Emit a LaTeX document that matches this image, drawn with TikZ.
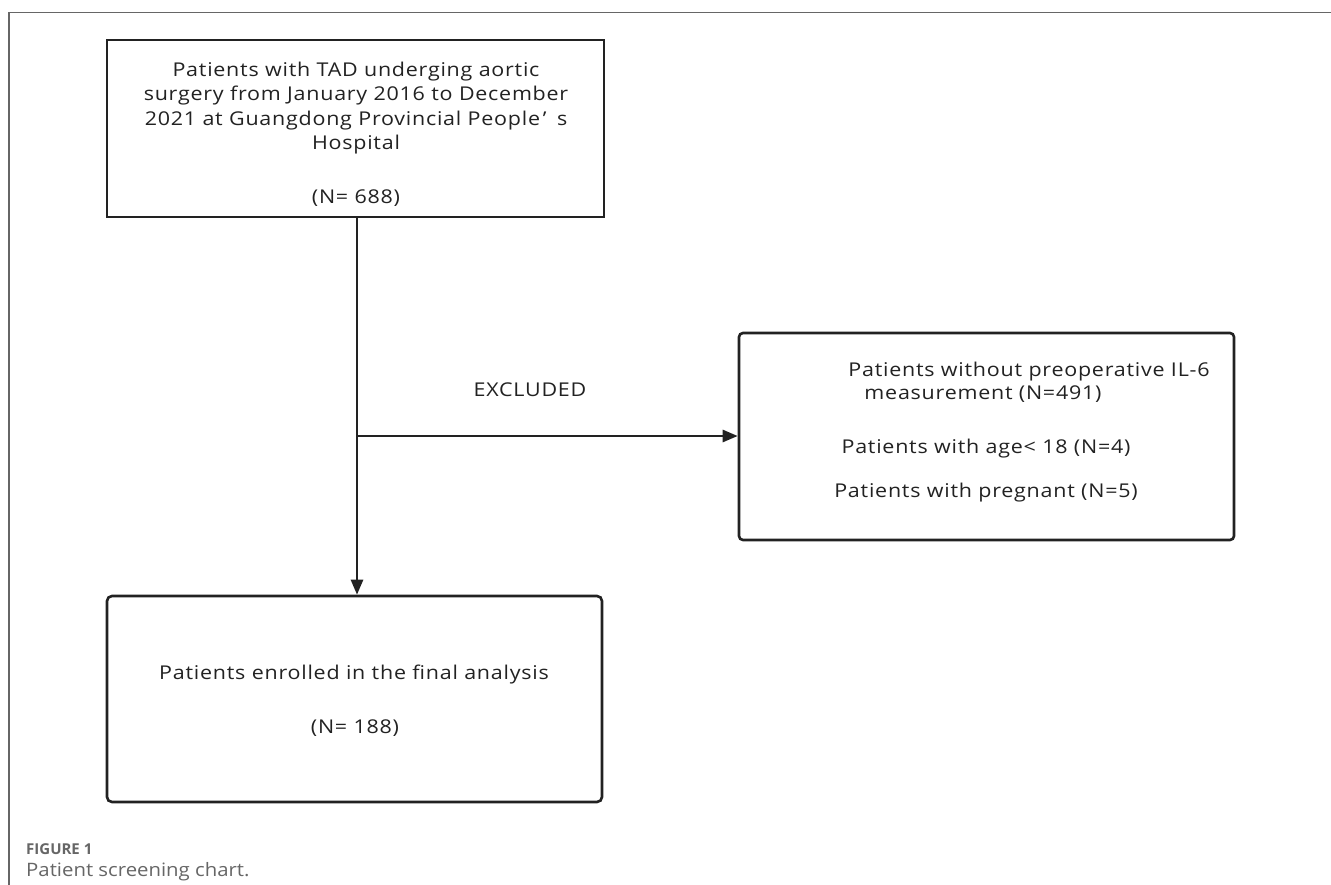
\documentclass[tikz,border=0pt]{standalone}
\usepackage{fontspec}
\setmainfont{Open Sans}
\newfontfamily\chartfont{Open Sans}[FakeStretch=1.13,LetterSpace=4]
\newfontfamily\capfont{Open Sans}[FakeStretch=1.1]
\usetikzlibrary{arrows.meta}
\definecolor{ink}{HTML}{222222}
\definecolor{frame}{HTML}{666666}
\begin{document}
\begin{tikzpicture}[x=1pt,y=-1pt,
  box/.style={draw=ink,line width=2.6pt},
  txt/.style={text=ink,font=\chartfont\fontsize{19}{24.5}\selectfont,align=center,inner sep=0pt},
  conn/.style={draw=ink,line width=2.6pt,-{Triangle[length=15pt,width=12pt]}}]
\useasboundingbox (0,0) rectangle (1331,885);
\fill[white] (0,0) rectangle (1331,885);
% frame
\draw[frame,line width=1.2pt] (9,885) -- (9,12.5) -- (1331,12.5);
% boxes
\node[box,minimum width=497pt,minimum height=177pt,inner sep=0pt] (top) at (355.5,128.5) {};
\node[box,rounded corners=4pt,minimum width=495pt,minimum height=207pt,inner sep=0pt] (excl) at (986.5,436.5) {};
\node[box,rounded corners=5pt,minimum width=495pt,minimum height=206pt,inner sep=0pt] (final) at (354.5,699) {};
% texts
\node[txt] (t1) at (356,108) {Patients with TAD underging aortic\\surgery from January 2016 to December\\2021 at Guangdong Provincial People\kern0.15em’\kern0.55em s\\Hospital};
\node[txt] (t2) at (356,198) {(N= 688)};
\node[txt] (e1a) at (1029,372) {Patients without preoperative IL-6};
\node[txt] (e1b) at (983,394) {measurement (N=491)};
\node[txt] (e2) at (986,449) {Patients with age< 18 (N=4)};
\node[txt] (e3) at (986,493) {Patients with pregnant (N=5)};
\node[txt] (f1) at (354,675) {Patients enrolled in the final analysis};
\node[txt] (f2) at (355,728) {(N= 188)};
\node[txt] (lab) at (530,390) {EXCLUDED};
% connectors
\coordinate (j) at (357,436);
\draw[conn] (top.south -| j) -- (final.north -| j);
\draw[conn] (j) -- (excl.west |- j);
% caption
\node[anchor=west,inner sep=0pt,text=frame,font=\fontsize{15}{18}\selectfont\bfseries] (fig) at (26,849) {FIGURE 1};
\node[anchor=west,inner sep=0pt,text=frame,font=\capfont\fontsize{18.5}{20}\selectfont] (cap) at (26,872) {Patient screening chart.};
\end{tikzpicture}
\end{document}
